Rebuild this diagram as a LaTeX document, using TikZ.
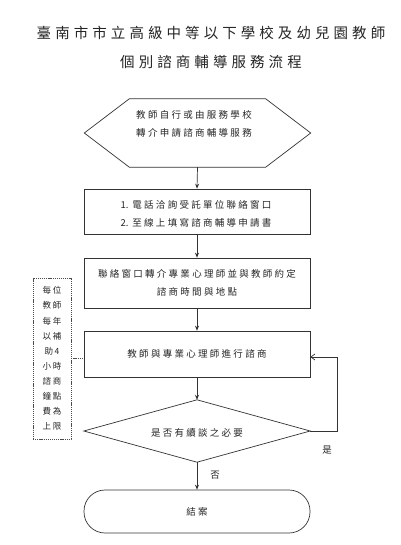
\documentclass[tikz,border=0pt]{standalone}
\usepackage{fontspec}
\setmainfont{Noto Sans CJK TC}
\newfontfamily\cjkt[LetterSpace=28]{Noto Sans CJK TC}
\newfontfamily\cjkb[LetterSpace=24]{Noto Sans CJK TC}
\newfontfamily\cjkz{Noto Sans CJK TC}
\newfontfamily\cjks[LetterSpace=18]{Noto Sans CJK TC}
\usetikzlibrary{arrows.meta}
\begin{document}
\begin{tikzpicture}[x=1pt,y=-1pt,
  line/.style={draw=black!80,line width=0.7pt},
  flow/.style={line,-{Stealth[length=5pt,width=4pt]}},
  loopar/.style={line,-{Straight Barb[length=4pt,width=6pt]}},
  frame/.style={minimum width=226pt,inner sep=0pt},
  boxnode/.style={frame,line,rectangle},
  txt/.style={font=\fontsize{9.5}{18}\selectfont\cjkb,text=black!85,inner sep=0pt},
  title/.style={font=\fontsize{14.5}{29}\selectfont\cjkt,text=black!85,inner sep=0pt,align=center},
  notebox/.style={draw=black!70,line width=0.5pt,dash pattern=on 1.2pt off 0.9pt,minimum width=38pt,minimum height=161pt,inner sep=0pt,align=center,font=\fontsize{8.5}{15.1}\selectfont\cjks,text=black!85}
]
\useasboundingbox (0,0) rectangle (400,545);
\fill[white] (0,0) rectangle (400,545);

% title
\node[title] (ttl) at (211,47) {臺南市市立高級中等以下學校及幼兒園教師\\個別諮商輔導服務流程};

% start hexagon
\node[frame,minimum height=68pt] (start) at (197.5,133) {};
\draw[line] (start.west) -- ([xshift=45pt]start.north west) -- ([xshift=-45pt]start.north east)
  -- (start.east) -- ([xshift=-45pt]start.south east) -- ([xshift=45pt]start.south west) -- cycle;
\node[txt,align=left] (starttxt) at (194,124) {教師自行或由服務學校\\轉介申請諮商輔導服務};

% box 1
\node[boxnode,minimum height=45pt] (b1) at (197,211.5) {};
\node[txt,align=left] (b1txt) at (196,214) {{\cjkz 1.\hspace{4pt}}電話洽詢受託單位聯絡窗口\\{\cjkz 2.\hspace{4pt}}至線上填寫諮商輔導申請書};

% box 2
\node[boxnode,minimum height=50pt,txt,align=center] (b2) at (197,283) {聯絡窗口轉介專業心理師並與教師約定\\諮商時間與地點};

% box 3
\node[boxnode,minimum height=46pt,txt] (b3) at (197,354) {教師與專業心理師進行諮商};

% decision diamond
\node[frame,minimum height=62pt] (dec) at (197,431) {};
\draw[line] (dec.west) -- (dec.north) -- (dec.east) -- (dec.south) -- cycle;
\node[txt] (dectxt) at (197,433) {是否有續談之必要};

% terminal
\node[boxnode,minimum height=43pt,rounded corners=21pt,txt] (end) at (197,511.5) {結案};

% side note
\node[notebox] (note) at (52,358.5) {每位\\教師\\每年\\以補\\助4\\小時\\諮商\\鐘點\\費為\\上限};

% connectors
\draw[flow] (start.south) -- (b1.north);
\draw[flow] (b1.south) -- (b2.north);
\draw[flow] (b2.south) -- (b3.north);
\draw[flow] (b3.south) -- (dec.north);
\draw[flow] (dec.south) -- (end.north);
\coordinate (loopc) at (337,431);
\draw[loopar] (dec.east) -- (loopc) |- ([yshift=-3pt]b3.east);
\draw[draw=black!70,line width=0.5pt,dash pattern=on 1.2pt off 0.9pt] (note.east) -- (note.east -| b3.west);

% labels
\node[txt] (yes) at (327,450) {是};
\node[txt] (no) at (215,475) {否};
\end{tikzpicture}
\end{document}
